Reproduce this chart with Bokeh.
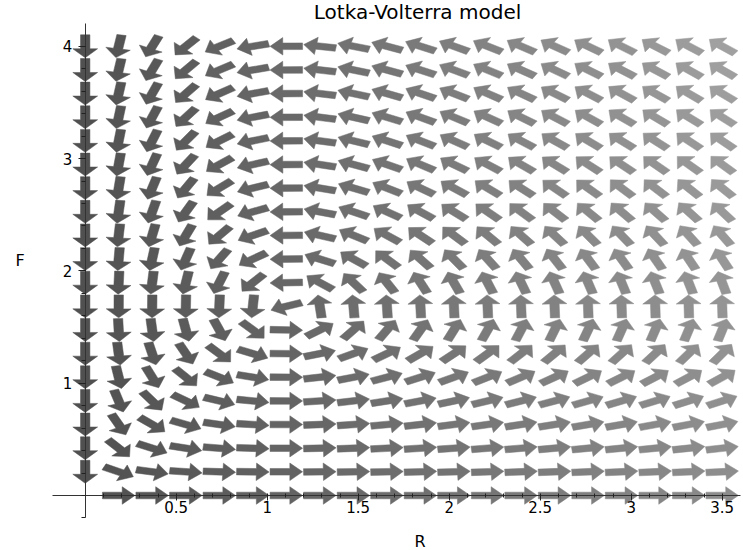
import math
from bokeh.plotting import figure
from bokeh.models import Range1d, FixedTicker
from bokeh.core.properties import value
from bokeh.embed import file_html
from bokeh.resources import INLINE

TITLE = "Lotka-Volterra model"
X_LABEL = "R"
Y_LABEL = "F"

# grid of the direction field (20 x 20)
R_VALUES = [0.0, 0.184, 0.368, 0.553, 0.737, 0.921, 1.105, 1.289, 1.474, 1.658,
            1.842, 2.026, 2.211, 2.395, 2.579, 2.763, 2.947, 3.132, 3.316, 3.5]
F_VALUES = [0.0, 0.211, 0.421, 0.632, 0.842, 1.053, 1.263, 1.474, 1.684, 1.895,
            2.105, 2.316, 2.526, 2.737, 2.947, 3.158, 3.368, 3.579, 3.789, 4.0]

# model: dR/dt = a R - b R F ; dF/dt = -c F + d R F
GROWTH_R = 2.0
PREDATION = 1.2
DEATH_F = 1.0
CONVERSION = 0.9

X_TICKS = [0.5, 1, 1.5, 2, 2.5, 3, 3.5]
X_TICK_LABELS = ["0.5", "1", "1.5", "2", "2.5", "3", "3.5"]
Y_TICKS = [1, 2, 3, 4]
Y_TICK_LABELS = ["1", "2", "3", "4"]

# arrow shape in grid-cell units
ARROW_LEN = 0.97
SHAFT_HALF = 0.14
HEAD_HALF = 0.37
HEAD_LEN = 0.38

cw = (R_VALUES[-1] - R_VALUES[0]) / (len(R_VALUES) - 1)
ch = (F_VALUES[-1] - F_VALUES[0]) / (len(F_VALUES) - 1)

shape = [(-ARROW_LEN / 2, -SHAFT_HALF), (ARROW_LEN / 2 - HEAD_LEN, -SHAFT_HALF),
         (ARROW_LEN / 2 - HEAD_LEN, -HEAD_HALF), (ARROW_LEN / 2, 0.0),
         (ARROW_LEN / 2 - HEAD_LEN, HEAD_HALF), (ARROW_LEN / 2 - HEAD_LEN, SHAFT_HALF),
         (-ARROW_LEN / 2, SHAFT_HALF)]

xs, ys, colors = [], [], []
rmax = R_VALUES[-1]
fmax = F_VALUES[-1]
for F in F_VALUES:
    for R in R_VALUES:
        dR = GROWTH_R * R - PREDATION * R * F
        dF = -DEATH_F * F + CONVERSION * R * F
        u, v = dR / cw, dF / ch
        n = math.hypot(u, v)
        if n < 1e-12:
            continue
        u /= n
        v /= n
        pxv, pyv = -v, u
        xs.append([R + (a * u + b * pxv) * cw for a, b in shape])
        ys.append([F + (a * v + b * pyv) * ch for a, b in shape])
        g = int(round(80 + 60 * (R / rmax) + 20 * (F / fmax) * (R / rmax)))
        colors.append("#%02x%02x%02x" % (g, g, g))

p = figure(width=743, height=550,
           x_range=Range1d(-0.4654, 3.617), y_range=Range1d(-0.4898, 4.4078),
           output_backend="svg", toolbar_location=None, tools="", min_border=0)
p.outline_line_color = None
p.xgrid.visible = False
p.ygrid.visible = False
p.background_fill_color = "white"

p.patches(xs, ys, fill_color=colors, line_color=colors, line_width=0.5)

xa = p.xaxis[0]
ya = p.yaxis[0]
xa.fixed_location = 0
ya.fixed_location = 0
xa.bounds = (-0.18, 3.6)
ya.bounds = (-0.2, 4.2)
xa.ticker = FixedTicker(ticks=X_TICKS, minor_ticks=[i / 10 for i in range(1, 36)])
ya.ticker = FixedTicker(ticks=Y_TICKS, minor_ticks=[i / 5 for i in range(-1, 21)])
xa.major_label_overrides = dict(zip(X_TICKS, X_TICK_LABELS))
ya.major_label_overrides = dict(zip(Y_TICKS, Y_TICK_LABELS))
for ax in (xa, ya):
    ax.axis_line_color = "#333333"
    ax.axis_line_width = 1
    ax.major_tick_line_color = "#222222"
    ax.minor_tick_line_color = "#222222"
    ax.major_label_text_font = "DejaVu Sans"
    ax.major_label_text_font_size = "15px"
    ax.major_label_text_color = "black"
xa.major_tick_in = 0
xa.major_tick_out = 5
xa.minor_tick_in = 2
xa.minor_tick_out = 2
xa.major_label_standoff = 1
ya.major_tick_in = 0
ya.major_tick_out = 7
ya.minor_tick_in = 0
ya.minor_tick_out = 4
ya.major_label_standoff = 6

p.text(x=[1.826], y=[4.301], text=[TITLE], text_font=value("DejaVu Sans"),
       text_font_size="20px", text_align="center", text_baseline="middle", text_color="black")
p.text(x=[1.84], y=[-0.41], text=[X_LABEL], text_font=value("DejaVu Sans"),
       text_font_size="16px", text_align="center", text_baseline="middle", text_color="black")
p.text(x=[-0.358], y=[2.093], text=[Y_LABEL], text_font=value("DejaVu Sans"),
       text_font_size="16px", text_align="center", text_baseline="middle", text_color="black")

open("out.html", "w").write(file_html(p, INLINE))
